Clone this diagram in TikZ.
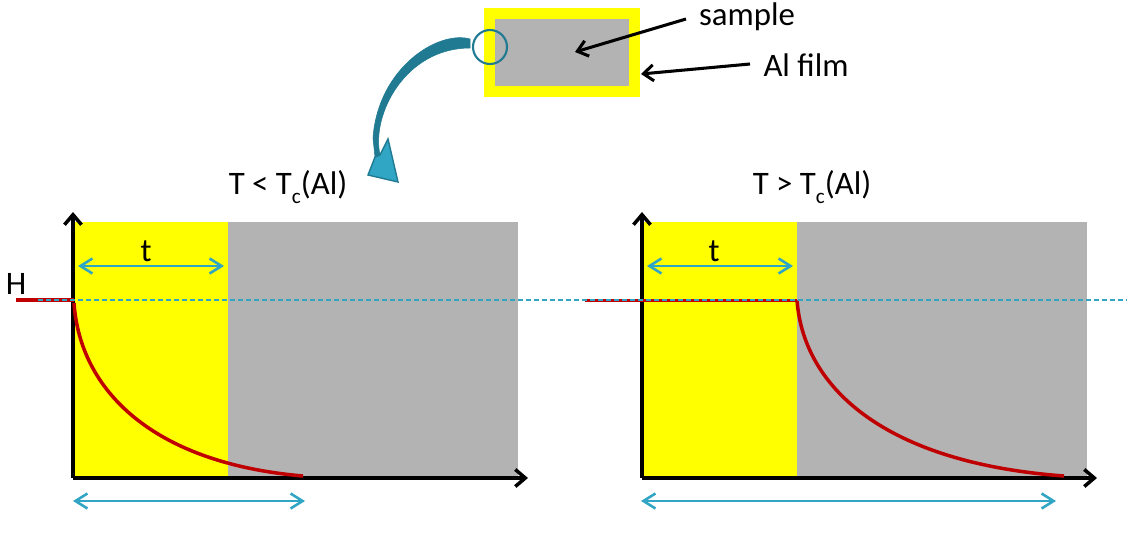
\documentclass[tikz,border=0pt]{standalone}
\usepackage{fontspec}
\setmainfont{Carlito}
\usetikzlibrary{arrows.meta}

\newcommand{\unitpx}{0.03cm}
\newcommand{\subc}{\raisebox{-0.3em}{\fontsize{18}{18}\selectfont c}}

\begin{document}
\begin{tikzpicture}[
    x=\unitpx, y=-\unitpx,
    % GLOBAL CFG
    font=\fontsize{28}{32}\selectfont,
    % Styles
    film/.style={% For the yellow boxes
        rectangle,
        fill=filmyellow,
        inner sep=0pt,
        },
    sample/.style={% For the gray boxes
        rectangle,
        fill=samplegray,
        inner sep=0pt,
        },
    axis/.style={% For the plot axes
        -{Straight Barb[length=10*\unitpx,width=17*\unitpx]},
        line width=3pt,
        },
    pointer/.style={% For the arrows from the labels
        -{Straight Barb[length=10*\unitpx,width=16*\unitpx]},
        line width=2.6pt,
        },
    span/.style={% For the double arrows
        {Straight Barb[length=12*\unitpx,width=15*\unitpx]}-{Straight Barb[length=12*\unitpx,width=15*\unitpx]},
        draw=spanblue,
        line width=2.2pt,
        },
    field/.style={% For the red curves
        draw=fieldred,
        line width=3pt,
        },
    level/.style={% For the dashed line
        draw=spanblue,
        dash pattern=on 5*\unitpx off 3*\unitpx,
        line width=1.2pt,
        },
    ]

\definecolor{filmyellow}{HTML}{FFFF00}
\definecolor{samplegray}{HTML}{B3B3B3}
\definecolor{spanblue}{HTML}{31A5C4}
\definecolor{darkblue}{HTML}{1F7A92}
\definecolor{fieldred}{HTML}{C00000}

    \useasboundingbox (0,0) rectangle (1127,537);

    % Draw the sample at the top
    \node [film, minimum width=156*\unitpx, minimum height=89*\unitpx] (film_top) at (562,52.5) {};
    \node [sample, minimum width=134*\unitpx, minimum height=67*\unitpx] (sample_top) at (562,52.5) {};
    \node [circle, draw=darkblue, line width=1.8pt, minimum size=34*\unitpx, inner sep=0pt] (lens) at (490,47) {};

    % Draw the labels at the top
    \node (sample_label) at (747,17) {sample};
    \node (film_label) at (806,65) {Al film};
    \coordinate (sample_tip) at (575,52);
    \coordinate (sample_tail) at (686,19);
    \coordinate (film_tip) at (641,74);
    \coordinate (film_tail) at (750,64);
    \draw [pointer] (sample_tail) -- (sample_tip);
    \draw [pointer] (film_tail) -- (film_tip);

    % Draw the bent arrow
    \filldraw [draw=darkblue, fill=darkblue, line width=0.5pt]
        (470,39) .. controls (438,30) and (378,68) .. (373,138) -- (375,157) -- (380,155)
        .. controls (371,115) and (405,48) .. (470,48) -- cycle;
    \filldraw [draw=darkblue, fill=spanblue, line width=1.2pt]
        (368,175) -- (398,182) -- (388,139) -- (380,155) -- (375,157) -- cycle;

    % Draw the plot boxes
    \node [film, minimum width=154*\unitpx, minimum height=256*\unitpx] (film_left) at (151,350) {};
    \node [sample, minimum width=290*\unitpx, minimum height=256*\unitpx] (sample_left) at (373,350) {};
    \node [film, minimum width=155*\unitpx, minimum height=256*\unitpx] (film_right) at (719.5,350) {};
    \node [sample, minimum width=290*\unitpx, minimum height=256*\unitpx] (sample_right) at (942,350) {};

    % Draw the titles
    \node (title_left) at (288,187) {T < T\subc(Al)};
    \node (title_right) at (812,187) {T > T\subc(Al)};
    \node (t_left) at (146,251) {t};
    \node (t_right) at (714,251) {t};
    \node (h_label) at (16,284) {H};

    % Points on the plots
    \coordinate (origin_left) at (73,478);
    \coordinate (top_left) at (73,212);
    \coordinate (end_left) at (528,478);
    \coordinate (origin_right) at (642,478);
    \coordinate (top_right) at (642,212);
    \coordinate (end_right) at (1097,478);

    \coordinate (h_start_left) at (16,300);
    \coordinate (h_end_left) at (74,300);
    \coordinate (h_start_right) at (585,300.5);
    \coordinate (h_end_right) at (797,300.5);
    \coordinate (curve_start_left) at (74,303);
    \coordinate (tail_left) at (303,476);
    \coordinate (tail_right) at (1064,476);
    \coordinate (dash_start) at (38,300);
    \coordinate (dash_end) at (1127,300);

    % Axes
    \draw [axis] (origin_left) -- (top_left);
    \draw [axis] (origin_left) -- (end_left);
    \draw [axis] (origin_right) -- (top_right);
    \draw [axis] (origin_right) -- (end_right);

    % Red curves
    \draw [field] (h_start_left) -- (h_end_left);
    \draw [field] (curve_start_left) .. controls (80,390) and (152,463) .. (tail_left);
    \draw [field] (h_start_right) -- (h_end_right);
    \draw [field] (h_end_right) .. controls (804,390) and (888,463) .. (tail_right);
    \draw [level] (dash_start) -- (dash_end);

    % Double arrows
    \coordinate (span_a) at (78,266);
    \coordinate (span_b) at (224,266);
    \coordinate (span_c) at (647,266);
    \coordinate (span_d) at (793,266);
    \coordinate (span_e) at (73,501);
    \coordinate (span_f) at (305,501);
    \coordinate (span_g) at (641,501);
    \coordinate (span_h) at (1056,501);
    \draw [span] (span_a) -- (span_b);
    \draw [span] (span_c) -- (span_d);
    \draw [span] (span_e) -- (span_f);
    \draw [span] (span_g) -- (span_h);

\end{tikzpicture}
\end{document}
